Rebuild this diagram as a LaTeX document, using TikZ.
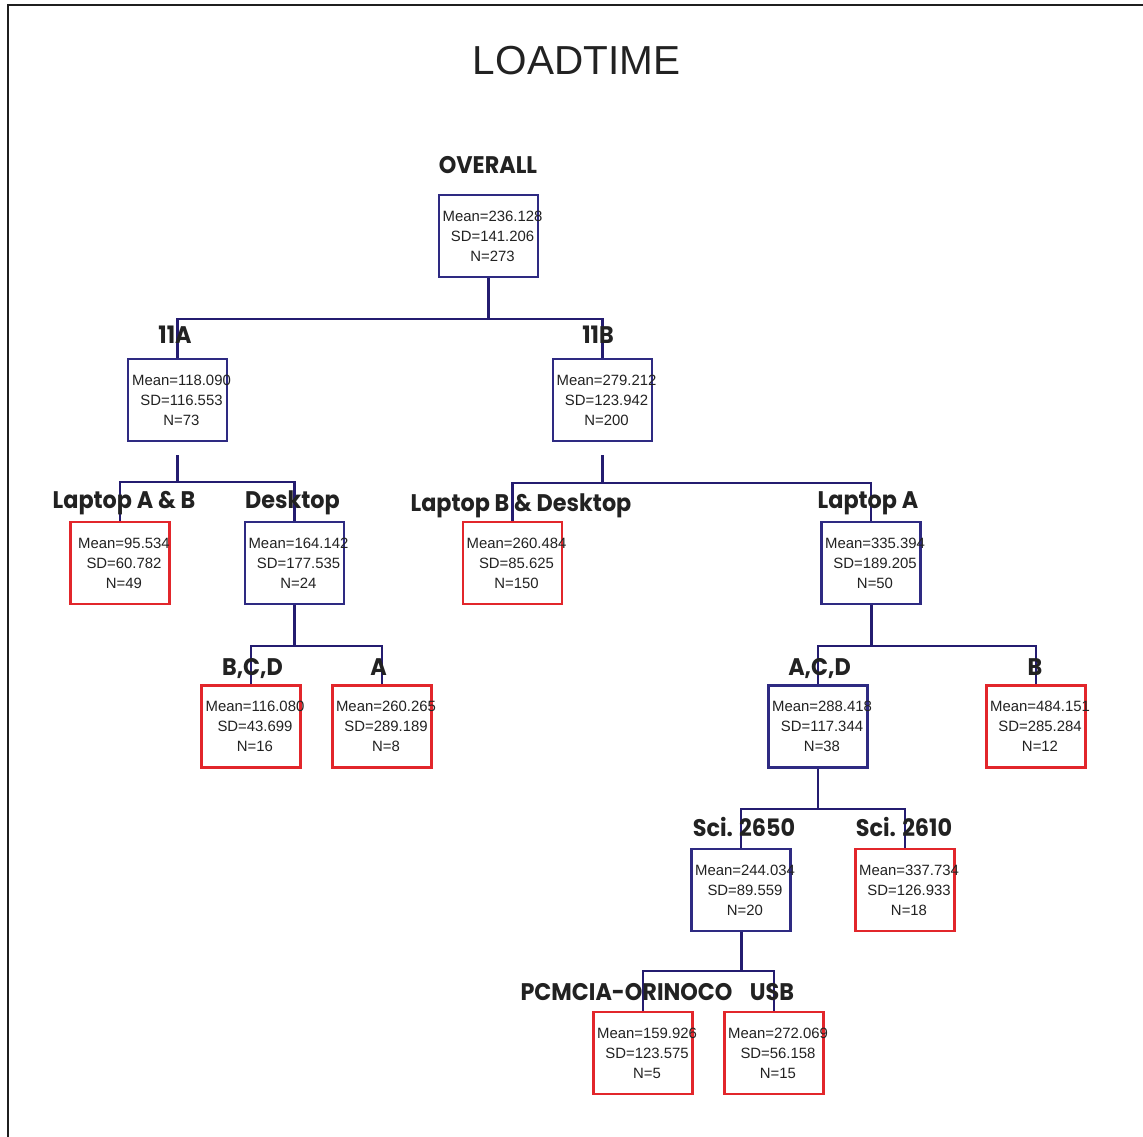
\documentclass[tikz,border=0pt]{standalone}
\usepackage{fontspec}
\setmainfont{Liberation Sans}
\newfontfamily\labfont{Poppins}[BoldFont={* Bold}]
\usetikzlibrary{calc}
\definecolor{navy}{HTML}{241C70}
\definecolor{boxblue}{HTML}{2E2A82}
\definecolor{boxred}{HTML}{E2262B}
\definecolor{ink}{HTML}{222222}
\tikzset{
  basebox/.style={draw, line width=2.1pt, minimum width=99pt, minimum height=82pt, inner sep=0pt},
  bluebox/.style={basebox, draw=boxblue},
  redbox/.style={basebox, draw=boxred},
  stats/.style={font=\fontsize{14.9pt}{20pt}\selectfont, text=ink, align=center, inner sep=0pt},
  conn/.style={draw=navy, line width=2.1pt},
  thickconn/.style={draw=navy, line width=3pt},
  lab/.style={anchor=base, inner sep=0pt, text=ink, font=\labfont\bfseries\fontsize{24pt}{24pt}\selectfont},
}
\newcommand{\statbox}[6]{%
  \node[#1] (#2) at (#3) {};
  \node[stats] (#2t) at ($(#2.center)+(4,0)$) {#4\\#5\\#6};
}
\newcommand{\lbl}[3]{\node[lab] (#1) at (#2) {\scalebox{0.93}[1]{#3}};}
\begin{document}
\begin{tikzpicture}[x=1pt,y=-1pt]
\useasboundingbox (0,0) rectangle (1143,1137);
\fill[white] (0,0) rectangle (1143,1137);
\draw[line width=2.2pt, black!88] (8.3,1137) -- (8.3,5) -- (1143,5);
\node[anchor=base, inner sep=0pt, text=ink, font=\fontsize{40.5pt}{40pt}\selectfont] (title) at (576.5,75) {LOADTIME};

% boxes
\statbox{bluebox}{n1}{488.5,236}{Mean=236.128}{SD=141.206}{N=273}
\statbox{bluebox}{n2}{177.5,400}{Mean=118.090}{SD=116.553}{N=73}
\statbox{bluebox}{n3}{602.5,400}{Mean=279.212}{SD=123.942}{N=200}
\statbox{redbox}{n4}{120,563}{Mean=95.534}{SD=60.782}{N=49}
\statbox{bluebox}{n5}{294.5,563}{Mean=164.142}{SD=177.535}{N=24}
\statbox{redbox}{n6}{512.5,563}{Mean=260.484}{SD=85.625}{N=150}
\statbox{bluebox}{n7}{871,563}{Mean=335.394}{SD=189.205}{N=50}
\statbox{redbox}{n8}{251,726.5}{Mean=116.080}{SD=43.699}{N=16}
\statbox{redbox}{n9}{382,726.5}{Mean=260.265}{SD=289.189}{N=8}
\statbox{bluebox}{n10}{818,726.5}{Mean=288.418}{SD=117.344}{N=38}
\statbox{redbox}{n11}{1036,726.5}{Mean=484.151}{SD=285.284}{N=12}
\statbox{bluebox}{n12}{741,890}{Mean=244.034}{SD=89.559}{N=20}
\statbox{redbox}{n13}{905,890}{Mean=337.734}{SD=126.933}{N=18}
\statbox{redbox}{n14}{643,1053}{Mean=159.926}{SD=123.575}{N=5}
\statbox{redbox}{n15}{774,1053}{Mean=272.069}{SD=56.158}{N=15}

% connectors
\coordinate (b1) at ($(n1.south)+(0,41)$);
\draw[thickconn] (n1.south) -- (b1);
\draw[conn] (n2.north) |- (b1) -| (n3.north);

\coordinate (s2) at ($(n2.south)+(0,13)$);
\coordinate (b2) at ($(n2.south)+(0,40)$);
\draw[conn] (s2) -- (b2);
\draw[conn] (n4.north) |- (b2) -| (n5.north);

\coordinate (s3) at ($(n3.south)+(0,13)$);
\coordinate (b3) at ($(n3.south)+(0,41)$);
\draw[conn] (s3) -- (b3);
\draw[conn] (n6.north) |- (b3) -| (n7.north);

\coordinate (b5) at ($(n5.south)+(0,41)$);
\draw[conn] (n5.south) -- (b5);
\draw[conn] (n8.north) |- (b5) -| (n9.north);

\coordinate (b7) at ($(n7.south)+(0,41)$);
\draw[thickconn] (n7.south) -- (b7);
\draw[conn] (n10.north) |- (b7) -| (n11.north);

\coordinate (b10) at ($(n10.south)+(0,40)$);
\draw[conn] (n10.south) -- (b10);
\draw[conn] (n12.north) |- (b10) -| (n13.north);

\coordinate (b12) at ($(n12.south)+(0,39)$);
\draw[thickconn] (n12.south) -- (b12);
\draw[conn] (n14.north) |- (b12) -| (n15.north);

% labels
\lbl{l1}{488,173.5}{OVERALL}
\lbl{l2}{175,343}{11A}
\lbl{l3}{598,343}{11B}
\lbl{l4}{124,508}{Laptop A \& B}
\lbl{l5}{292.5,508}{Desktop}
\lbl{l6}{521,511.5}{Laptop B \& Desktop}
\lbl{l7}{868,508}{Laptop A}
\lbl{l8}{252.5,675}{B,C,D}
\lbl{l9}{378.5,675}{A}
\lbl{l10}{819.5,675}{A,C,D}
\lbl{l11}{1035,675}{B}
\lbl{l12}{744,836}{Sci. 2650}
\lbl{l13}{904,836}{Sci. 2610}
\lbl{l14}{626.5,1000.5}{PCMCIA-ORINOCO}
\lbl{l15}{772,1000.5}{USB}
\end{tikzpicture}
\end{document}
